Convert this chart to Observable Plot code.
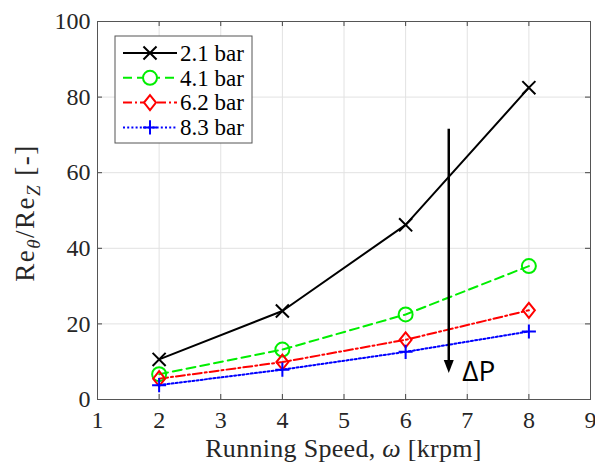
<!DOCTYPE html>
<html><head><meta charset="utf-8">
<script src="https://cdn.jsdelivr.net/npm/d3@7"></script>
<script src="https://cdn.jsdelivr.net/npm/@observablehq/plot@0.6"></script>
<style>body{margin:0;background:#fff} svg{display:block}</style>
</head><body><div id="chart"></div>
<script>
// ---- data ----
const speeds = [2, 4, 6, 8];
const seriesNames = ["2.1 bar", "4.1 bar", "6.2 bar", "8.3 bar"];
const ratio21 = [10.6, 23.4, 46.2, 82.5];
const ratio41 = [6.7, 13.2, 22.5, 35.3];
const ratio62 = [5.5, 9.9, 15.8, 23.6];
const ratio83 = [3.8, 7.9, 12.6, 18.0];
const xTicks = [1, 2, 3, 4, 5, 6, 7, 8, 9];
const yTicks = [0, 20, 40, 60, 80, 100];
const arrowX = 6.7, arrowTop = 71.5, arrowBottom = 7;
const dpLabel = "ΔP", dpX = 6.92, dpY = 7.3;
const xLabelText = ["Running Speed, ", "ω", " [krpm]"];

// ---- styles ----
const diamond = {draw(ctx, size) { const h = 7.5, w = 6; ctx.moveTo(0, -h); ctx.lineTo(w, 0); ctx.lineTo(0, h); ctx.lineTo(-w, 0); ctx.closePath(); }};
const arrowHead = {draw(ctx) { ctx.moveTo(0, 0); ctx.lineTo(-5, -13); ctx.lineTo(5, -13); ctx.closePath(); }};
const styles = [
  {color: "#000000", dash: null, symbol: "times", d3sym: d3.symbolTimes, r: 6},
  {color: "#00ee00", dash: "9,5", symbol: "circle", d3sym: d3.symbolCircle, r: 7},
  {color: "#ff0000", dash: "9,3,2,3", symbol: diamond, d3sym: diamond, r: 6},
  {color: "#0000ff", dash: "2,2.2", symbol: "plus", d3sym: d3.symbolPlus, r: 4.6}
];
const seriesValues = [ratio21, ratio41, ratio62, ratio83];
const series = seriesNames.map((name, i) => ({
  name, style: styles[i],
  data: speeds.map((s, j) => ({speed: s, value: seriesValues[i][j]}))
}));
const arrowData = [{x: arrowX, top: arrowTop, bottom: arrowBottom}];

const W = 595, H = 465, mL = 97, mR = 5, mT = 21, mB = 66;
const innerW = W - mL - mR, innerH = H - mT - mB;
const serif = "'Liberation Serif', 'Times New Roman', serif";
const sans = "'Open Sans', sans-serif";

const marks = [
  Plot.gridX(xTicks, {stroke: "#e2e2e2", strokeOpacity: 1}),
  Plot.gridY(yTicks, {stroke: "#e2e2e2", strokeOpacity: 1}),
  Plot.tickX(xTicks, {x: d => d, stroke: "#444", insetTop: innerH - 5}),
  Plot.tickX(xTicks, {x: d => d, stroke: "#444", insetBottom: innerH - 5}),
  Plot.tickY(yTicks, {y: d => d, stroke: "#444", insetRight: innerW - 5}),
  Plot.tickY(yTicks, {y: d => d, stroke: "#444", insetLeft: innerW - 5}),
  Plot.frame({stroke: "#555", strokeWidth: 1}),
  Plot.axisX(xTicks, {tickSize: 0, tickPadding: 11, fontSize: 24, fill: "#262626", fontFamily: serif, label: null}),
  Plot.axisY(yTicks, {tickSize: 0, tickPadding: 7, fontSize: 24, fill: "#262626", fontFamily: serif, label: null}),
];
for (const s of series) {
  marks.push(Plot.line(s.data, {x: "speed", y: "value", stroke: s.style.color, strokeWidth: 2, strokeDasharray: s.style.dash}));
}
for (const s of series) {
  marks.push(Plot.dot(s.data, {x: "speed", y: "value", symbol: s.style.symbol, r: s.style.r, stroke: s.style.color, fill: "none", strokeWidth: 2}));
}
marks.push(
  Plot.ruleX(arrowData, {x: "x", y1: "top", y2: d => d.bottom + 2.5, stroke: "#000", strokeWidth: 2.5}),
  Plot.dot(arrowData, {x: "x", y: "bottom", symbol: arrowHead, fill: "#000", stroke: "none", r: 5}),
  Plot.text(arrowData, {x: () => dpX, y: () => dpY, text: () => dpLabel, textAnchor: "start", fontSize: 28, fontFamily: sans, fill: "#000"})
);

const chart = Plot.plot({
  width: W, height: H,
  marginLeft: mL, marginRight: mR, marginTop: mT, marginBottom: mB,
  x: {domain: [1, 9], axis: null},
  y: {domain: [0, 100], axis: null},
  style: {background: "#fff", overflow: "visible"},
  marks
});
document.getElementById("chart").appendChild(chart);

// ---- axis titles and legend ----
const svg = d3.select(chart);
const ylab = svg.append("text")
  .attr("transform", `translate(34,${mT + innerH / 2 + 3}) rotate(-90)`)
  .attr("text-anchor", "middle").attr("fill", "#262626")
  .style("font-size", "27px").style("letter-spacing", "1.5px");
ylab.append("tspan").text("Re");
ylab.append("tspan").attr("dy", 6).style("font-size", "19px").style("font-style", "italic").text("θ");
ylab.append("tspan").attr("dy", -6).text("/Re");
ylab.append("tspan").attr("dy", 6).style("font-size", "19px").style("font-style", "italic").text("Z");
ylab.append("tspan").attr("dy", -6).text(" [-]");

const xlab = svg.append("text")
  .attr("x", mL + innerW / 2).attr("y", 457)
  .attr("text-anchor", "middle").attr("fill", "#262626")
  .style("font-size", "26px").style("letter-spacing", "0.3px");
xlab.append("tspan").text(xLabelText[0]);
xlab.append("tspan").style("font-style", "italic").text(xLabelText[1]);
xlab.append("tspan").text(xLabelText[2]);

const lg = svg.append("g");
lg.append("rect").attr("x", 115).attr("y", 36).attr("width", 137).attr("height", 107)
  .attr("fill", "#fff").attr("stroke", "#555").attr("stroke-width", 1);
series.forEach((s, i) => {
  const y = 53 + i * 24.8;
  lg.append("line").attr("x1", 123).attr("x2", 177).attr("y1", y).attr("y2", y)
    .attr("stroke", s.style.color).attr("stroke-width", 2).attr("stroke-dasharray", s.style.dash);
  lg.append("path").attr("transform", `translate(150,${y})`)
    .attr("d", d3.symbol(s.style.d3sym, Math.PI * s.style.r * s.style.r)())
    .attr("fill", "#fff").attr("stroke", s.style.color).attr("stroke-width", 2);
  lg.append("text").attr("x", 180).attr("y", y).attr("dy", "0.34em")
    .attr("text-anchor", "start")
    .attr("fill", "#000").style("font-size", "23px").text(s.name);
});

// force fonts with inline styles
svg.selectAll("text").each(function() {
  const t = d3.select(this);
  t.style("font-family", t.text() === dpLabel ? sans : serif);
});
</script>
</body></html>
